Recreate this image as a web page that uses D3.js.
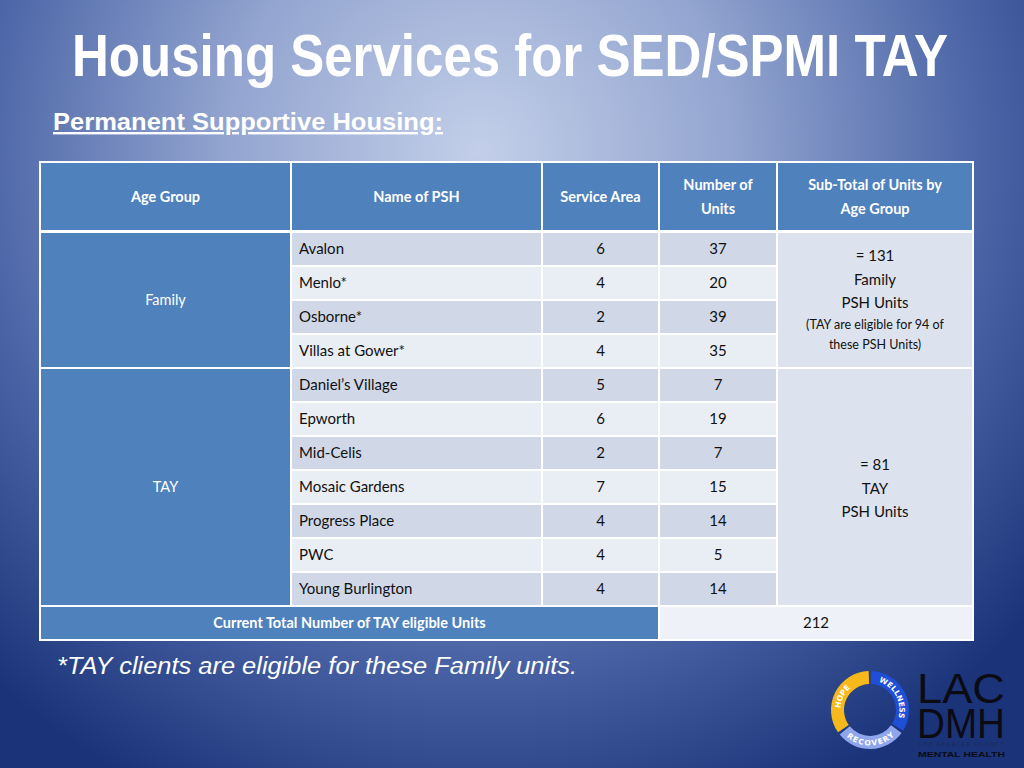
<!DOCTYPE html>
<html><head><meta charset="utf-8">
<script src="https://cdn.jsdelivr.net/npm/d3@7"></script>
<style>html,body{margin:0;padding:0;overflow:hidden;background:#2a4488}</style>
</head><body>
<svg id="c" width="1024" height="768"></svg>
<script>
// ---- data ----
const title = "Housing Services for SED/SPMI TAY";
const subtitle = "Permanent Supportive Housing:";
const headers = ["Age Group", "Name of PSH", "Service Area", "Number of|Units", "Sub-Total of Units by|Age Group"];
const names = ["Avalon", "Menlo*", "Osborne*", "Villas at Gower*", "Daniel\u2019s Village", "Epworth", "Mid-Celis", "Mosaic Gardens", "Progress Place", "PWC", "Young Burlington"];
const serviceAreas = [6, 4, 2, 4, 5, 6, 2, 7, 4, 4, 4];
const units = [37, 20, 39, 35, 7, 19, 7, 15, 14, 5, 14];
const ageGroups = ["Family", "Family", "Family", "Family", "TAY", "TAY", "TAY", "TAY", "TAY", "TAY", "TAY"];
const familySubtotal = ["= 131", "Family", "PSH Units"];
const familyNote = ["(TAY are eligible for 94 of", "these PSH Units)"];
const taySubtotal = ["= 81", "TAY", "PSH Units"];
const totalLabel = "Current Total Number of TAY eligible  Units";
const totalValue = "212";
const footnote = "*TAY clients are eligible for these Family units.";
const logoRing = ["HOPE", "WELLNESS", "RECOVERY"];
const logoText = ["LAC", "DMH", "LOS ANGELES COUNTY", "MENTAL HEALTH"];

// ---- layout ----
const svg = d3.select("#c");
const W = 1024, H = 768;
const defs = svg.append("defs");
const rg = defs.append("radialGradient").attr("id","bg")
  .attr("gradientUnits","userSpaceOnUse").attr("cx",480).attr("cy",150).attr("r",720);
rg.append("stop").attr("offset","0").attr("stop-color","#c3cfe9");
rg.append("stop").attr("offset","0.35").attr("stop-color","#93a5d0");
rg.append("stop").attr("offset","0.7").attr("stop-color","#4a64a6");
rg.append("stop").attr("offset","1").attr("stop-color","#1b3479");
svg.append("rect").attr("width",W).attr("height",H).attr("fill","url(#bg)");

// Title
svg.append("text").attr("transform","translate(510,76) scale(1,1.17)").attr("text-anchor","middle")
  .attr("font-family","Liberation Sans, Arial, sans-serif").attr("font-weight","bold")
  .attr("font-size",50).attr("fill","#fff")
  .attr("textLength",876).attr("lengthAdjust","spacingAndGlyphs").text(title);
svg.append("text").attr("x",53).attr("y",130)
  .attr("font-family","Liberation Sans, Arial, sans-serif").attr("font-weight","bold")
  .attr("font-size",24).attr("fill","#fff").attr("text-decoration","underline")
  .attr("textLength",390).attr("lengthAdjust","spacingAndGlyphs").text(subtitle);

// Table scales
const colEdges = [40, 291, 542, 659, 777, 973];
const x = d3.scaleOrdinal().domain(d3.range(6)).range(colEdges);
const y = d3.scaleBand().domain(d3.range(names.length)).range([232, 606]);
const headTop = 162, headBot = 231, footTop = 606, footBot = 640;
const font = "Lato, 'Open Sans', sans-serif";
const blue = "#4f81bd", dark = "#d0d8e8", light = "#e9edf4", sub = "#dde3ee";
const g = svg.append("g");

// header
g.selectAll("rect.h").data(headers).join("rect")
  .attr("x",(d,i)=>x(i)).attr("y",headTop).attr("width",(d,i)=>x(i+1)-x(i)).attr("height",headBot-headTop)
  .attr("fill",blue).attr("stroke","#fff").attr("stroke-width",2);
headers.forEach((h,i)=>{
  const lines = h.split("|");
  const cx = (x(i)+x(i+1))/2;
  lines.forEach((l,k)=>{
    g.append("text").attr("x",cx).attr("y",(headTop+headBot)/2 + 5 + (k-(lines.length-1)/2)*24)
      .attr("text-anchor","middle").attr("font-family",font).attr("font-weight","bold")
      .attr("font-size",14.5).attr("fill","#fff").text(l);
  });
});

// body rows
names.forEach((n,i)=>{
  const fill = i%2===0 ? dark : light;
  [1,2,3].forEach(c=>{
    g.append("rect").attr("x",x(c)).attr("y",y(i)).attr("width",x(c+1)-x(c)).attr("height",y.bandwidth())
      .attr("fill",fill).attr("stroke","#fff").attr("stroke-width",2);
  });
  const ty = y(i)+y.bandwidth()/2 + 5;
  g.append("text").attr("x",x(1)+8).attr("y",ty).attr("font-family",font).attr("font-size",15).attr("fill","#111").text(n);
  g.append("text").attr("x",(x(2)+x(3))/2).attr("y",ty).attr("text-anchor","middle").attr("font-family",font).attr("font-size",15).attr("fill","#111").text(serviceAreas[i]);
  g.append("text").attr("x",(x(3)+x(4))/2).attr("y",ty).attr("text-anchor","middle").attr("font-family",font).attr("font-size",15).attr("fill","#111").text(units[i]);
});

// merged age group + subtotal cells
const groups = d3.groups(ageGroups.map((a,i)=>({a,i})), d=>d.a);
groups.forEach(([a,rows])=>{
  const top = y(rows[0].i), bot = y(rows[rows.length-1].i)+y.bandwidth();
  g.append("rect").attr("x",x(0)).attr("y",top).attr("width",x(1)-x(0)).attr("height",bot-top)
    .attr("fill",blue).attr("stroke","#fff").attr("stroke-width",2);
  g.append("text").attr("x",(x(0)+x(1))/2).attr("y",(top+bot)/2+5).attr("text-anchor","middle")
    .attr("font-family",font).attr("font-size",14.5).attr("fill","#fff").text(a);
  g.append("rect").attr("x",x(4)).attr("y",top).attr("width",x(5)-x(4)).attr("height",bot-top)
    .attr("fill",sub).attr("stroke","#fff").attr("stroke-width",2);
  const cx = (x(4)+x(5))/2;
  if (a==="Family") {
    familySubtotal.forEach((l,k)=>g.append("text").attr("x",cx).attr("y",top+29+k*23.5).attr("text-anchor","middle")
      .attr("font-family",font).attr("font-size",15).attr("fill","#111").text(l));
    familyNote.forEach((l,k)=>g.append("text").attr("x",cx).attr("y",top+97+k*20).attr("text-anchor","middle")
      .attr("font-family",font).attr("font-size",12.5).attr("fill","#111").text(l));
  } else {
    const mid = (top+bot)/2;
    taySubtotal.forEach((l,k)=>g.append("text").attr("x",cx).attr("y",mid-17+k*23.5).attr("text-anchor","middle")
      .attr("font-family",font).attr("font-size",15).attr("fill","#111").text(l));
  }
});

// footer row
g.append("rect").attr("x",x(0)).attr("y",footTop).attr("width",x(3)-x(0)).attr("height",footBot-footTop)
  .attr("fill",blue).attr("stroke","#fff").attr("stroke-width",2);
g.append("rect").attr("x",x(3)).attr("y",footTop).attr("width",x(5)-x(3)).attr("height",footBot-footTop)
  .attr("fill","#eef1f7").attr("stroke","#fff").attr("stroke-width",2);
g.append("text").attr("x",(x(0)+x(3))/2).attr("y",(footTop+footBot)/2+5).attr("text-anchor","middle")
  .attr("font-family",font).attr("font-weight","bold").attr("font-size",14.5).attr("fill","#fff").text(totalLabel);
g.append("text").attr("x",(x(3)+x(5))/2).attr("y",(footTop+footBot)/2+5).attr("text-anchor","middle")
  .attr("font-family",font).attr("font-size",15).attr("fill","#111").text(totalValue);
// outer border
g.append("rect").attr("x",x(0)).attr("y",headTop).attr("width",x(5)-x(0)).attr("height",footBot-headTop)
  .attr("fill","none").attr("stroke","#fff").attr("stroke-width",2);

// footnote
svg.append("text").attr("x",57).attr("y",674)
  .attr("font-family","Liberation Sans, Arial, sans-serif").attr("font-style","italic")
  .attr("font-size",24.5).attr("fill","#fff")
  .attr("textLength",520).attr("lengthAdjust","spacingAndGlyphs").text(footnote);

// logo
const LX = 870, LY = 710;
const logo = svg.append("g").attr("transform",`translate(${LX},${LY})`);
const arc = d3.arc().innerRadius(26).outerRadius(39);
const deg = Math.PI/180;
const segs = [
  {s:-125*deg, e:-2*deg, c:"#f6b81a"},
  {s:2*deg, e:122*deg, c:"#1f4fd6"},
  {s:126*deg, e:231*deg, c:"#8fa6ec"}
];
segs.forEach((s,k)=>{
  logo.append("path").attr("d",arc({startAngle:s.s,endAngle:s.e})).attr("fill",s.c);
  const pid = "lp"+k;
  const r = 32.5;
  let a0 = s.s, a1 = s.e, sweep = 1;
  if (k===2){ a0 = s.e; a1 = s.s; sweep = 0; }
  const p0 = [r*Math.sin(a0), -r*Math.cos(a0)], p1 = [r*Math.sin(a1), -r*Math.cos(a1)];
  defs.append("path").attr("id",pid).attr("d",`M${p0[0]+LX},${p0[1]+LY} A${r},${r} 0 0 ${sweep} ${p1[0]+LX},${p1[1]+LY}`);
  svg.append("text").attr("font-family","DejaVu Sans, sans-serif").attr("font-weight","bold").attr("font-size",7.5)
    .attr("fill","#fff").attr("dy",3).attr("letter-spacing",0.6)
    .append("textPath").attr("href","#"+pid).attr("startOffset","50%").attr("text-anchor","middle").text(logoRing[k]);
});
const lt = svg.append("g").attr("font-family","Liberation Sans, Arial, sans-serif").attr("fill","#0b0b14");
lt.append("text").attr("transform","translate(917,703) scale(1,1.3)").attr("font-size",32).attr("textLength",88).attr("lengthAdjust","spacingAndGlyphs").text(logoText[0]);
lt.append("text").attr("transform","translate(917,738) scale(1,1.3)").attr("font-size",32).attr("textLength",88).attr("lengthAdjust","spacingAndGlyphs").text(logoText[1]);
lt.append("text").attr("x",919).attr("y",746).attr("font-size",4.5).attr("fill","#1b2450").attr("textLength",84).text(logoText[2]);
lt.append("text").attr("x",918).attr("y",757).attr("font-size",8).attr("font-weight","bold").attr("textLength",87).attr("lengthAdjust","spacingAndGlyphs").text(logoText[3]);
</script>
</body></html>
